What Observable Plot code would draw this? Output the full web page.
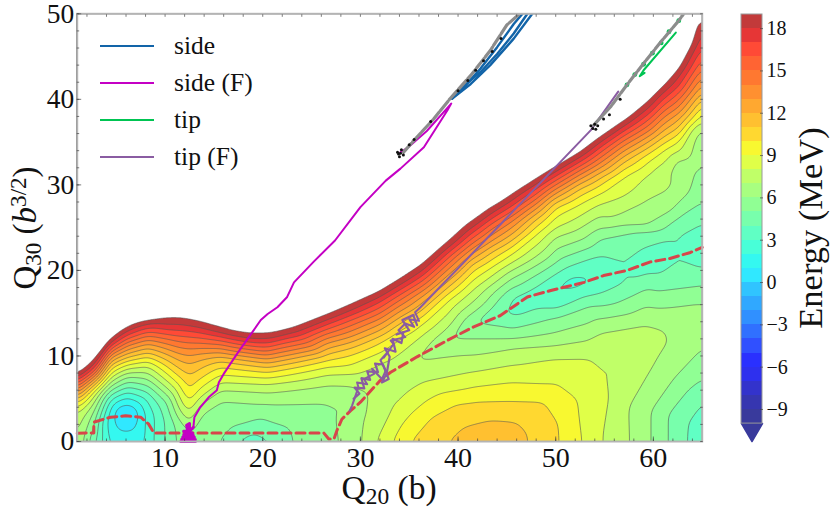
<!DOCTYPE html>
<html><head><meta charset="utf-8">
<script src="https://cdn.jsdelivr.net/npm/d3@7"></script>
<script src="https://cdn.jsdelivr.net/npm/@observablehq/plot@0.6"></script>
<style>
html,body{margin:0;padding:0;background:#fff}
#wrap{position:relative;width:830px;height:509px;overflow:hidden;font-family:"Liberation Serif",serif;color:#111}
#wrap svg{position:absolute;left:0;top:0}
.lab{position:absolute;white-space:nowrap;line-height:1}
.lab sub{font-size:.7em;line-height:0;vertical-align:-.22em}
.lab sup{font-size:.7em;line-height:0;vertical-align:.42em}
.leg{position:absolute;font-size:25.5px;line-height:1;white-space:nowrap}
.swatch{position:absolute;width:54px;height:2px}
</style></head><body><div id="wrap"></div>
<script>
// Iso-energy samples [Q20, Q30], per level (MeV)
const level19=[[1,7.7],[2.7,9.1],[3.5,10.4],[4.4,11.8],[5.2,12.6],[6.1,13.3],[7,13.8],[8.2,14.15],[9.5,14.35],[11.3,14.4],[12.5,14.2],[13.6,13.9],[15.7,13.2],[17,12.75],[18.4,12.5],[20.5,12.5],[22,12.8],[23.2,13.2],[24.8,13.9],[26.6,14.7],[29,15.9],[32,17.4],[34,18.8],[36.4,20.6],[38.9,23.1],[40.9,25.2],[43.5,27.3],[45.5,28.8],[48,30.6],[50,32],[52.5,33.7],[54.6,35.5],[57,37.4],[59.7,40],[61,41.5],[62.7,43.7],[64,46.5],[64.7,49.5]];
const level18=[[1,7.4],[2.7,8.8],[4.4,11.5],[6.1,12.9],[8.2,13.7],[11.3,13.7],[12.5,13.5],[13.6,13.3],[15.7,12.7],[20.5,12],[26.6,14.2],[29,15.3],[32,16.9],[36.4,20],[41.5,25],[45.5,28.1],[50,31.5],[54.6,35],[59.7,39.1],[62.7,42.7],[65,48.1]];
const level17=[[1,7],[2.7,8.5],[4.4,11.2],[6.1,12.4],[8.2,13.25],[11.3,13],[12.5,12.9],[13.6,12.7],[15.7,12.2],[20.5,11.5],[26.6,13.7],[29,14.7],[32,16.3],[34,17.7],[36.4,19.4],[38.9,22],[41.5,24.4],[43.5,26.1],[45.5,27.5],[48,29.5],[50,31],[52.5,32.7],[54.6,34.4],[57,36.3],[59.7,38.4],[61,40],[62.7,41.6],[65,46.3]];
const level16=[[1,6.7],[2.7,8.1],[4.4,10.9],[6.1,12],[8.2,12.8],[11.3,12.3],[12.5,12.2],[13.6,12.1],[15.7,11.8],[20.5,11],[26.6,13.1],[29,14.2],[32,15.6],[36.4,18.8],[41.5,23.8],[45.5,26.9],[50,30.5],[54.6,33.8],[59.7,37.8],[62.7,40.8],[65,44.9]];
const level15=[[1,6.3],[2.7,7.8],[4.4,10.5],[6.1,11.6],[8.2,12.35],[11.3,11.7],[12.5,11.5],[13.6,11.5],[15.7,11.3],[20.5,10.5],[26.6,12.6],[29,13.5],[32,15],[34,16.5],[36.4,18.2],[38.9,20.7],[41.5,23.2],[43.5,24.9],[45.5,26.3],[48,28.3],[50,30],[52.5,31.7],[54.6,33.2],[57,35.2],[59.7,37.1],[61,38.6],[62.7,40],[65,43.7]];
const level14=[[1,6],[2.7,7.5],[4.4,10.2],[6.1,11.2],[8.2,11.9],[11.3,11],[12.5,10.8],[13.6,10.9],[15.7,10.9],[20.5,10.1],[26.6,12.1],[29,12.9],[32,14.3],[36.4,17.6],[41.5,22.6],[45.5,25.7],[50,29.5],[54.6,32.6],[59.7,36.4],[62.7,39.2],[65,42.7]];
const level13=[[1,5.6],[2.7,7.2],[4.4,9.8],[6.1,10.7],[8.2,11.4],[11.3,10.3],[12.5,10],[13.6,10.25],[15.7,10.4],[20.5,9.6],[26.6,11.5],[29,12.2],[32,13.7],[34,15.2],[36.4,17],[38.9,19.4],[41.5,22],[43.5,23.5],[45.5,25],[48,27.2],[50,29],[52.5,30.7],[54.6,32],[57,34],[59.7,35.8],[61,37.1],[62.7,38.4],[65,41.8]];
const level12=[[1,5.3],[2.7,6.9],[4.4,9.4],[6.1,10.3],[8.2,10.95],[11.3,9.5],[12.5,9],[13.6,9.5],[15.7,9.9],[20.5,9.2],[26.6,10.9],[29,11.6],[32,13],[36.4,16.3],[41.5,21.4],[45.5,24.2],[50,28.5],[54.6,31.5],[59.7,35.2],[62.7,37.7],[65,40.9]];
const level11=[[1,4.9],[2.7,6.5],[4.4,9],[6.1,9.8],[8.2,10.4],[11.3,8.6],[12.5,7.6],[13.6,8.5],[15.7,9.4],[20.5,8.6],[26.6,10.2],[29,10.9],[32,12.3],[34,13.8],[36.4,15.4],[38.9,18],[41.5,20.8],[43.5,22.2],[45.5,23.5],[48,26],[50,28],[52.5,29.6],[54.6,30.8],[57,32.7],[59.7,34.5],[61,35.6],[62.7,36.8],[65,40.1],[39,0],[40.6,1.7],[43.3,2.45],[46,2.25],[47.1,0.9],[47.2,0]];
const level10=[[1,4.4],[2.7,6.2],[4.4,8.5],[6.1,9.4],[8.2,9.9],[11.3,7.7],[12.5,5.8],[13.6,7.3],[15.7,8.7],[20.5,8.1],[26.6,9.5],[29,10.1],[32,11.5],[36.4,14.6],[41.5,19.9],[45.5,22.7],[50,27.3],[54.6,30],[59.7,33.8],[62.7,36],[65,39.3],[35.1,0],[37.2,2.8],[39.9,4.4],[41.5,4.6],[45.5,4.7],[48.8,4.6],[50.3,2],[50.4,0]];
const level9=[[1,4],[2.7,5.8],[4.4,8],[6.1,9],[8.2,9.4],[11.3,6.8],[12.5,4.4],[13.6,6.2],[15.7,7.8],[20.5,7.4],[26.6,8.7],[29,8.9],[32,10.4],[34,12],[36.4,13.8],[38.9,16.4],[41.5,18.9],[43.5,20.4],[45.5,21.9],[48,24.2],[50,26.3],[52.5,27.8],[54.6,29],[57,31],[59.7,32.9],[61,34],[62.7,35.1],[65,38.4],[33.3,0],[36.8,4.8],[40.9,6.15],[45.5,6.9],[50,6.7],[52.2,4.8],[52.7,0]];
const level8=[[1,3.2],[2.7,5.2],[4.4,7.5],[6.1,8.5],[8.2,8.8],[11.3,5.6],[12.5,3.3],[13.6,5.2],[15.7,6.9],[20.5,6.7],[26.6,7.8],[29,7.9],[32,9.2],[36.4,12.5],[41.5,17.7],[45.5,20.9],[50,25],[54.6,27.8],[59.7,31.5],[62.7,34],[65,37.4],[31.7,0],[33.4,4],[35.5,6.3],[36.4,6.9],[41.5,8.1],[45.5,8.9],[50,9.7],[53.3,9.75],[56.3,8.6],[55.5,5.1],[54.8,0]];
const level7=[[1,0.7],[2.7,4.4],[4.4,7],[6.1,8],[8.2,8.1],[11.3,4],[12.5,2.2],[13.6,4.4],[15.7,6],[20.5,5.7],[26.6,6.6],[29,6.5],[30.5,3],[30.2,0],[34,8.4],[36.4,9.4],[41.5,10.1],[45.5,10.9],[50,11.2],[55,12.9],[59.1,13.7],[61,13.1],[61.5,11.5],[60.1,9],[57.5,3.9],[57.6,0],[36.4,10.6],[41.5,16.3],[45.5,20],[50,23.9],[52.2,24.7],[55.6,26.1],[59,28],[61.5,29.4],[62.1,29.9],[61.8,31.7],[62.3,32.9],[64.5,36.4],[65,36.6]];
const level6=[[1.6,0],[2.7,3.3],[4.4,6.5],[6.1,7.6],[8.2,7.3],[11.3,2.8],[12.5,1],[13.6,3.2],[15.7,4.8],[20.5,4.4],[26.6,4.5],[29,4.3],[27.6,2.5],[27.9,0],[59.8,0],[59.8,3.5],[62.2,7.4],[65,10.8],[65,16.3],[60.1,15.6],[53.3,13.8],[49.9,12.7],[45.5,12],[39.2,12],[41.5,15],[45.5,19.1],[50,22.5],[54.6,25],[59,25],[61.8,26.8],[63.6,29],[64,30.2],[64.1,31.7],[65,32.5]];
const level5=[[2.2,0],[2.7,1.5],[4.4,6],[6.1,7],[8.2,6.6],[10.3,4.5],[11,2],[11.1,0],[15.7,0],[17,1.7],[20.5,2.45],[22.5,1.7],[23,0],[61.5,0],[61.5,3.1],[65,7.3],[65,18.2],[59.4,17.9],[53.3,15.8],[50,14.5],[45.5,13.2],[41.5,13.9],[45.5,18],[50,20.9],[54.6,23.7],[59,24.7],[62.4,26.1],[65,28]];
const level4=[[2.8,0],[4.4,5.5],[6.1,6.4],[8.2,5.8],[9.5,4],[10,0],[17.2,0],[19,1.1],[21.1,0],[63.4,0],[63.5,2.3],[65,4.7],[65,20.2],[60.6,19.5],[57.3,18.7],[54.6,17.3],[50,15.4],[45.5,14.4],[44.1,14.8],[45.5,16.8],[50,19.6],[54.6,21.8],[59,22.7],[62.4,23.9],[65,25.5]];
const level3=[[3.6,0],[3.6,2.5],[4.4,4.9],[6.1,5.8],[8.2,4.8],[8.9,3],[8.8,0],[49.3,17.5],[51.5,19.2],[54.3,19.2],[52.3,18]];
const level2=[[4.2,0],[4,2],[4.4,3.9],[6.1,5.2],[7.5,4.5],[8,3],[8,0]];
const level1=[[4.7,3],[5,4],[6.1,4.4],[7,4.1],[7.4,3],[7,1.6],[6,1],[5,1.6]];
const level0=[[5.6,3],[6,3.4],[6.4,3],[6,2.6]];
// Extremes, saddles and far corners
const extraSamples=[[6,3,-1.5],[43.5,0,11.9],[43.5,1.2,11.5],[31.8,6.4,7.5],[19,0,3.7],[13.5,0,5.5],[12.5,0,5.4],[51.8,18.6,2.6],[65,22.7,3.2],[59.7,21,3.3],[47,16.5,3.3],[36.6,10,6.8],[65,0,3.5],[64.5,14,6.4],[60,12,7.3],[1,0,7.2],[1,50,35],[20,50,35],[40,50,35],[58,50,30],[65,50,20],[1,20,32],[20,30,32],[32,40,32],[46,42,30]];
const levelTable=[[19,level19],[18,level18],[17,level17],[16,level16],[15,level15],[14,level14],[13,level13],[12,level12],[11,level11],[10,level10],[9,level9],[8,level8],[7,level7],[6,level6],[5,level5],[4,level4],[3,level3],[2,level2],[1,level1],[0,level0]];

const thresholds=d3.range(-1,20);
const bandValues=d3.range(-10,19);
const bandColors=["#393a9c","#3636b0","#3333cc","#2e30ee","#2a30ff","#3050ff","#3070ff","#3090ff","#30a8ff","#30c4ff","#30e8ff","#34f8f0","#48ffd8","#60ffc4","#78ffac","#90ff94","#a8ff80","#c0ff68","#e0ff48","#f8f830","#ffd830","#ffc030","#ffa830","#ff9030","#ff7830","#ff6433","#ff4a36","#e63636","#c23a3a"];

// Paths
const sideFBlob=[[11.6,0],[13.1,0],[11.7,0.25],[13.1,0.25],[11.8,0.5],[13,0.5],[11.9,0.75],[12.9,0.7],[12,1],[12.8,1],[11.9,1.2],[12.3,1.3],[12.2,1.9],[12.5,2.1],[12.5,1.2],[12.9,1.67]];
const sideF=[[12.9,1.67],[13,2.84],[13.6,4],[14.5,5.2],[15.3,6],[15.5,6.9],[16,7.9],[17.4,10.3],[18.7,12.4],[19.8,14.2],[20.5,14.9],[21.5,15.7],[22.5,16.9],[23.2,18.6],[25.2,21],[27.4,23.5],[30,27.4],[32.6,30.5],[34.1,31.9],[36.5,34.4],[38.9,38.7],[39.3,39.5],[36.8,36.3],[34.9,34.4],[34.1,33.8]];
const side1=[[39.4,40.1],[40.6,41.4],[42.3,43.6],[44,46.1],[45.7,48.8],[46.6,50]];
const side2=[[39.4,40.1],[40.3,41.3],[42.3,43.2],[44,45.3],[45.7,47.7],[47.1,50]];
const side3=[[39.4,40.1],[41.3,41.8],[43.3,44],[45.7,47.1],[47.6,50]];
const tipPath=[[56.4,40.3],[57.3,41.7],[59,44.2],[60.9,46.9],[62.6,49.2],[63.1,50]];
const tipReturn=[[59.1,43.1],[58.6,42.7],[59,43.4],[62.3,47.8]];
const tipF=[[28.9,3.6],[29.15,4.2],[29.8,6.35],[29.66,6.9],[30.7,6.7],[30.35,7.3],[31.4,7.9],[31.2,8.5],[32.2,7.3],[32.6,8.3],[32.05,9.5],[32.9,10.6],[32.4,9.8],[33.4,11.4],[33.1,11.8],[34.6,12.2],[33.9,13],[34.6,13.8],[35.5,13.4],[35,14.3],[36,14.1],[35.6,15.1],[36.15,15.7],[44.7,25.8],[53.6,36.4],[56.4,40.9]];
const tipFLoops=[[29.3,5],[29.9,5.6],[29.4,6.3],[30.4,6.2],[30.1,7.4],[31,7.2],[30.7,8.2],[31.8,8.1],[31.5,9.1],[32.3,9],[32.9,7.3],[32.2,6.9],[32.7,8],[33,9.9],[32.5,10.9],[33.6,10.5],[33.3,12],[34.2,11.5],[34.4,12.8],[33.7,12.5],[35,13],[34.3,14.2],[35.4,14.8],[35.8,13.6]];
const grayA=[[34.4,33.8],[35.8,35.6],[37.5,37.7],[39.2,40.1],[41.3,42.8],[43.3,45.7],[45,48.7],[46.3,50]];
const grayB=[[53.9,37],[55.6,39.1],[57.3,41.7],[59,44.2],[60.9,46.9],[62.6,49.2],[63.1,50]];
const blackDots=[[34,33.3],[33.8,33.8],[34.2,34.1],[34.4,33.5],[33.9,33.6],[34.1,33.7],[35,34.7],[35.5,35.3],[37.2,37.4],[40,41],[41,42.2],[41.8,43.4],[42.6,44.5],[43.5,45.6],[44.4,47.1],[53.8,36.6],[54,37.1],[54.3,36.9],[53.6,36.9],[54.1,36.5],[54.9,37.7],[55.5,38.2],[56.6,40]];
const greenDots=[[57.3,41.7],[58.1,42.9],[59,44.1],[59.9,45.4],[60.8,46.6],[61.6,47.9],[62.6,49.2]];
const valley=[[1,0.97],[2.7,1],[2.7,2.25],[4.4,2.84],[5.95,3],[7.5,2.84],[8.3,2.06],[8.85,1],[26.25,1],[26.76,0.3],[27.3,0.3],[27.6,1.3],[28.1,2.6],[29,3.6],[30,4.6],[32,7.1],[33.1,8.1],[35.8,9.9],[39.2,12],[41.6,13.4],[44.3,14.7],[47.1,16.9],[49.5,17.65],[52.9,18.6],[54.9,19.4],[57.3,20],[59.7,21],[61.7,21.4],[63.8,22.1],[65,22.7]];

const majorX=[10,20,30,40,50,60], minorX=d3.range(2,66,2);
const majorY=[0,10,20,30,40,50], minorY=d3.range(0,51,2);
const barTicks=[-9,-6,-3,0,3,6,9,12,15,18];
const legendRows=[["side","#1264a8"],["side (F)","#c400c4"],["tip","#00c452"],["tip (F)","#8a5ca2"]];

const samples=levelTable.flatMap(([E,pts])=>pts.map(([x,y])=>({x,y,E})))
  .concat(extraSamples.map(([x,y,E])=>({x,y,E})));

const serif="Liberation Serif";
const xy={x:d=>d[0],y:d=>d[1]};
const tickStyle={text:null,label:null,stroke:"#444",strokeWidth:0.7};
const main=Plot.plot({
  width:830,height:509,marginLeft:76.7,marginRight:128.3,marginTop:13.3,marginBottom:68,
  style:{fontFamily:serif,background:"transparent",color:"#111"},
  x:{domain:[1,65],label:null},
  y:{domain:[0,50],label:null},
  color:{type:"threshold",domain:d3.range(-9,20),range:[...bandColors,"#ffffff"]},
  marks:[
    Plot.contour(samples,{x:"x",y:"y",fill:"E",thresholds,interpolate:"barycentric",blur:3.5,pixelSize:1,stroke:"#555",strokeWidth:0.7,strokeOpacity:0.85}),
    Plot.line(valley,{...xy,stroke:"#d8454a",strokeWidth:3,strokeDasharray:"9,5"}),
    Plot.line(side1,{...xy,stroke:"#1264a8",strokeWidth:2.4,clip:true}),
    Plot.line(side2,{...xy,stroke:"#1264a8",strokeWidth:2.4,clip:true}),
    Plot.line(side3,{...xy,stroke:"#1264a8",strokeWidth:2.4,clip:true}),
    Plot.line(sideFBlob,{...xy,stroke:"#c400c4",strokeWidth:3}),
    Plot.line(sideF,{...xy,stroke:"#c400c4",strokeWidth:2}),
    Plot.line(tipPath,{...xy,stroke:"#00c452",strokeWidth:1.5,clip:true}),
    Plot.line(tipReturn,{...xy,stroke:"#00c452",strokeWidth:2}),
    Plot.line(tipF,{...xy,stroke:"#8a5ca2",strokeWidth:2}),
    Plot.line(tipFLoops,{...xy,stroke:"#8a5ca2",strokeWidth:2.2}),
    Plot.dot(greenDots,{...xy,r:2.4,fill:"#00c452"}),
    Plot.line(grayA,{...xy,stroke:"#8c8c8c",strokeWidth:3.2,strokeDasharray:"12,2",clip:true}),
    Plot.line(grayB,{...xy,stroke:"#8c8c8c",strokeWidth:3.2,strokeDasharray:"12,2",clip:true}),
    Plot.dot(blackDots,{...xy,r:1.5,fill:"#111"}),
    Plot.frame({stroke:"#b4b4b4",strokeWidth:2}),
    Plot.axisX(minorX,{anchor:"bottom",tickSize:-2.5,...tickStyle}),
    Plot.axisX(majorX,{anchor:"bottom",tickSize:-4.5,...tickStyle}),
    Plot.axisY(minorY,{anchor:"left",tickSize:-2.5,...tickStyle}),
    Plot.axisY(majorY,{anchor:"left",tickSize:-4.5,...tickStyle}),
    Plot.axisX(minorX,{anchor:"top",tickSize:-2.5,...tickStyle}),
    Plot.axisY(minorY,{anchor:"right",tickSize:-2.5,...tickStyle}),
    Plot.axisX(majorX,{anchor:"bottom",tickSize:0,tickPadding:6,fontSize:28,label:null,tickFormat:d=>String(d)}),
    Plot.axisY(majorY,{anchor:"left",tickSize:0,tickPadding:3,fontSize:27.5,label:null,tickFormat:d=>String(d)})
  ]
});

const bands=bandValues.map((e,i)=>({e,c:bandColors[i]}));
const tipShape=[[0,-10],[1,-10],[0.5,-11.27],[0,-10]];
const bar=Plot.plot({
  width:830,height:509,marginLeft:741,marginRight:68,marginTop:14,marginBottom:68,
  style:{fontFamily:serif,background:"transparent",color:"#111"},
  x:{domain:[0,1],axis:null},
  y:{domain:[-11.27,19],label:null},
  color:{type:"identity"},
  marks:[
    Plot.rect(bands,{x1:()=>0,x2:()=>1,y1:d=>d.e,y2:d=>d.e+1,fill:d=>d.c,shapeRendering:"crispEdges"}),
    Plot.line(tipShape,{x:d=>d[0],y:d=>d[1],fill:"#393a9c",stroke:"#393a9c"}),
    Plot.rect([[-10,19]],{x1:()=>0,x2:()=>1,y1:d=>d[0],y2:d=>d[1],fill:"none",stroke:"#999",strokeWidth:1}),
    Plot.axisY(barTicks,{anchor:"right",tickSize:-3,...tickStyle}),
    Plot.axisY(barTicks,{anchor:"right",tickSize:0,tickPadding:4,fontSize:20,label:null,tickFormat:d=>String(d).replace("-","\u2212")})
  ]
});

const wrap=document.getElementById("wrap");
wrap.append(main,bar);
function label(html,css){const el=document.createElement("div");el.className="lab";el.innerHTML=html;el.style.cssText=css;wrap.append(el);}
label('Q<sub>20</sub> (b)','left:389px;top:471px;font-size:33.5px;transform:translateX(-50%)');
label('Q<sub>30</sub> (<i>b</i><sup>3/2</sup>)','left:25px;top:228px;font-size:33px;transform:translate(-50%,-50%) rotate(-90deg)');
label('Energy (MeV)','left:810px;top:228px;font-size:34.5px;transform:translate(-50%,-50%) rotate(-90deg)');
legendRows.forEach(([name,color],i)=>{
  const yy=46+i*37;
  const s=document.createElement("div");s.className="swatch";s.style.cssText=`left:100px;top:${yy-1}px;background:${color}`;
  const t=document.createElement("div");t.className="leg";t.textContent=name;t.style.cssText=`left:174px;top:${yy-13}px`;
  wrap.append(s,t);
});
</script></body></html>
